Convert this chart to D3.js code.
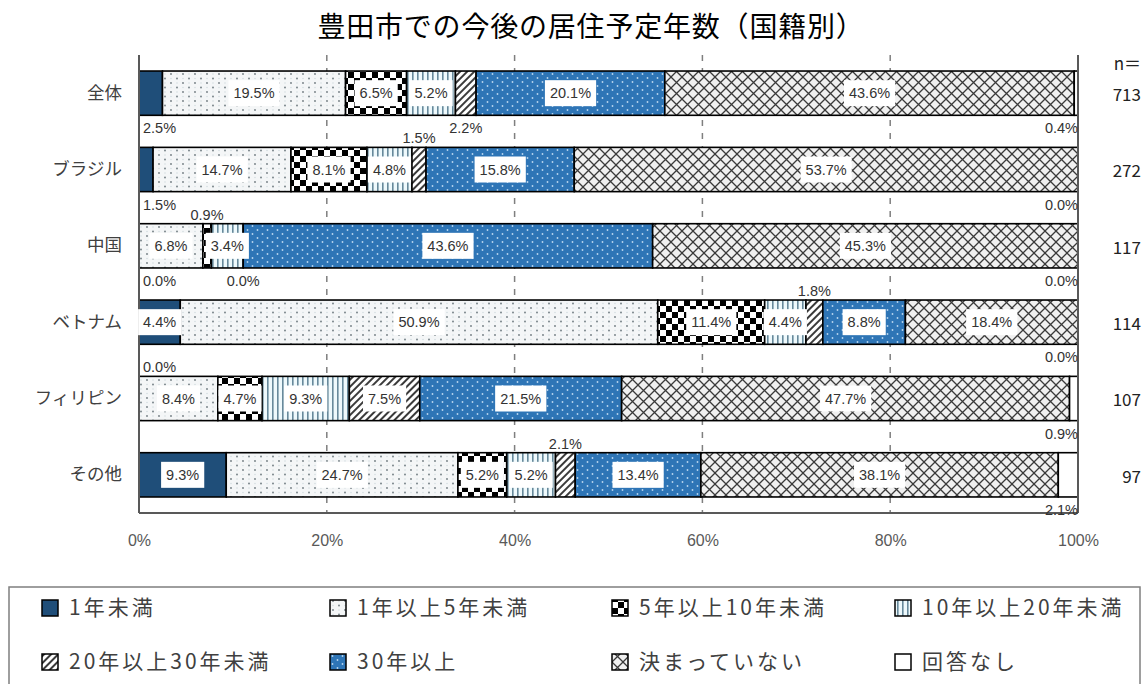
<!DOCTYPE html>
<html>
<head>
<meta charset="utf-8">
<script src="https://cdn.jsdelivr.net/npm/d3@7"></script>
<style>
  body { margin: 0; background: #fff; }
  svg text { font-family: "Noto Sans CJK JP", "Noto Sans", sans-serif; }
</style>
</head>
<body>
<svg id="chart" width="1145" height="684"></svg>
<script>
// ---- data ----
const categories = ["全体", "ブラジル", "中国", "ベトナム", "フィリピン", "その他"];
const seriesNames = ["1年未満", "1年以上5年未満", "5年以上10年未満", "10年以上20年未満",
                     "20年以上30年未満", "30年以上", "決まっていない", "回答なし"];
const valuesAll       = [2.5, 19.5, 6.5, 5.2, 2.2, 20.1, 43.6, 0.4];
const valuesBrazil    = [1.5, 14.7, 8.1, 4.8, 1.5, 15.8, 53.7, 0.0];
const valuesChina     = [0.0, 6.8, 0.9, 3.4, 0.0, 43.6, 45.3, 0.0];
const valuesVietnam   = [4.4, 50.9, 11.4, 4.4, 1.8, 8.8, 18.4, 0.0];
const valuesPhilippines = [0.0, 8.4, 4.7, 9.3, 7.5, 21.5, 47.7, 0.9];
const valuesOther     = [9.3, 24.7, 5.2, 5.2, 2.1, 13.4, 38.1, 2.1];
const sampleSizes = [713, 272, 117, 114, 107, 97];
const xTicks = [0, 20, 40, 60, 80, 100];

// where each value label sits: inside the segment, or just above / below the bar
const placeAll       = ["below", "in", "in", "in", "below", "in", "in", "below"];
const placeBrazil    = ["below", "in", "in", "in", "above", "in", "in", "below"];
const placeChina     = ["below", "in", "above", "in", "below", "in", "in", "below"];
const placeVietnam   = ["in", "in", "in", "in", "above", "in", "in", "below"];
const placePhilippines = ["above", "in", "in", "in", "in", "in", "in", "below"];
const placeOther     = ["in", "in", "in", "in", "above", "in", "in", "below"];

const rows = [valuesAll, valuesBrazil, valuesChina, valuesVietnam, valuesPhilippines, valuesOther];
const places = [placeAll, placeBrazil, placeChina, placeVietnam, placePhilippines, placeOther];

// ---- layout ----
const svg = d3.select("#chart");
const plot = { left: 139, right: 1078, top: 55, bottom: 513 };

const x = d3.scaleLinear().domain([0, 100]).range([plot.left, plot.right]);
const y = d3.scaleBand().domain(categories).range([plot.top, plot.bottom])
  .paddingInner(0.42).paddingOuter(0.21);

// ---- fill patterns ----
const defs = svg.append("defs");
function pattern(id, w, h, bg, transform) {
  const p = defs.append("pattern").attr("id", id)
    .attr("patternUnits", "userSpaceOnUse").attr("width", w).attr("height", h);
  if (transform) p.attr("patternTransform", transform);
  p.append("rect").attr("width", w).attr("height", h).attr("fill", bg);
  return p;
}
// light dotted
{
  const p = pattern("pDots", 12, 9, "#f4f6f7");
  [[3, 2], [9, 6.5]].forEach(([cx, cy]) => p.append("circle").attr("cx", cx).attr("cy", cy).attr("r", 0.9).attr("fill", "#6f7a80"));
  [[9, 2], [3, 6.5]].forEach(([cx, cy]) => p.append("circle").attr("cx", cx).attr("cy", cy).attr("r", 0.8).attr("fill", "#d5dde1"));
}
// checkerboard
{
  const p = pattern("pCheck", 12, 12, "#ffffff");
  p.append("rect").attr("x", 0).attr("y", 0).attr("width", 6).attr("height", 6).attr("fill", "#000");
  p.append("rect").attr("x", 6).attr("y", 6).attr("width", 6).attr("height", 6).attr("fill", "#000");
}
// vertical stripes
{
  const p = pattern("pVert", 5, 10, "#eef9fc");
  p.append("rect").attr("x", 2).attr("y", 0).attr("width", 1.6).attr("height", 10).attr("fill", "#67899b");
}
// diagonal hatch
{
  const p = pattern("pDiag", 5, 5, "#ffffff", "rotate(45)");
  p.append("rect").attr("x", 0).attr("y", 0).attr("width", 2).attr("height", 5).attr("fill", "#3a3a3a");
}
// blue with small dots
{
  const p = pattern("pBlue", 10, 8, "#2e75b6");
  [[2.5, 2], [7.5, 6]].forEach(([cx, cy]) => p.append("circle").attr("cx", cx).attr("cy", cy).attr("r", 0.9).attr("fill", "#b9d6ef"));
}
// diamond crosshatch
{
  const p = pattern("pCross", 11, 11, "#f0f0f0");
  p.append("path").attr("d", "M0,0L11,11M11,0L0,11M-1,10L1,12M10,-1L12,1")
    .attr("stroke", "#3a3a3a").attr("stroke-width", 1.3).attr("fill", "none");
}
const fills = ["#1f4e79", "url(#pDots)", "url(#pCheck)", "url(#pVert)",
               "url(#pDiag)", "url(#pBlue)", "url(#pCross)", "#ffffff"];

// ---- title ----
svg.append("text")
  .attr("x", 591).attr("y", 37)
  .attr("text-anchor", "middle")
  .attr("font-size", 28).attr("font-weight", 400).attr("letter-spacing", 0.8).attr("fill", "#000")
  .text("豊田市での今後の居住予定年数（国籍別）");

// ---- gridlines ----
svg.append("g").selectAll("line").data(xTicks.filter(t => t > 0 && t < 100)).join("line")
  .attr("x1", d => x(d)).attr("x2", d => x(d))
  .attr("y1", plot.top).attr("y2", plot.bottom)
  .attr("stroke", "#7f7f7f").attr("stroke-width", 1.5).attr("stroke-dasharray", "6,7");

// ---- bars ----
const stacked = rows.map((vals, i) => {
  const total = d3.sum(vals);
  let acc = 0;
  return vals.map((v, j) => {
    const s = { row: i, series: j, value: v, place: places[i][j],
                x0: acc / total * 100, x1: (acc + v) / total * 100 };
    acc += v;
    return s;
  });
});
const segs = stacked.flat();

svg.append("g").selectAll("rect").data(segs).join("rect")
  .attr("x", d => x(d.x0))
  .attr("y", d => y(categories[d.row]))
  .attr("width", d => x(d.x1) - x(d.x0))
  .attr("height", y.bandwidth())
  .attr("fill", d => fills[d.series])
  .attr("stroke", "#000").attr("stroke-width", 1.6);

// ---- axes frame ----
const frame = svg.append("g").attr("stroke", "#595959").attr("stroke-width", 2);
frame.append("line").attr("x1", plot.left).attr("x2", plot.left).attr("y1", plot.top).attr("y2", plot.bottom);
frame.append("line").attr("x1", plot.right).attr("x2", plot.right).attr("y1", plot.top).attr("y2", plot.bottom);
frame.append("line").attr("x1", plot.left).attr("x2", plot.right).attr("y1", plot.bottom).attr("y2", plot.bottom);

// x axis tick labels
const xAxis = svg.append("g").attr("transform", `translate(0,${plot.bottom})`)
  .call(d3.axisBottom(x).tickValues(xTicks).tickFormat(d => d + "%").tickSize(0).tickPadding(22));
xAxis.select(".domain").remove();
xAxis.selectAll("text").attr("font-size", 16).attr("fill", "#595959")
  .style("font-family", '"Liberation Sans Narrow", "Liberation Sans", sans-serif');

// y axis category labels
const yAxis = svg.append("g").attr("transform", `translate(${plot.left},0)`)
  .call(d3.axisLeft(y).tickSize(0).tickPadding(17));
yAxis.select(".domain").remove();
yAxis.selectAll("text").attr("font-size", 17.5).attr("fill", "#404040");

// ---- value labels ----
const fmt = d => d.toFixed(1) + "%";
const labelFont = '"Liberation Sans Narrow", "Liberation Sans", sans-serif';
const labels = svg.append("g");

segs.forEach(d => {
  const top = y(categories[d.row]);
  const bottom = top + y.bandwidth();
  const mid = top + y.bandwidth() / 2;
  if (d.place === "in") {
    const cx = (x(d.x0) + x(d.x1)) / 2;
    const g = labels.append("g");
    const t = g.append("text").attr("x", cx).attr("y", mid).attr("dy", "0.35em")
      .attr("text-anchor", "middle").attr("font-size", 14.5).attr("fill", "#333")
      .style("font-family", labelFont).text(fmt(d.value));
    const bb = t.node().getBBox();
    g.insert("rect", "text").attr("x", bb.x - 5).attr("y", mid - 13)
      .attr("width", bb.width + 10).attr("height", 26).attr("fill", "#fff");
  } else {
    let ax, anchor;
    if (d.series === 0) { ax = x(d.x0) + 4; anchor = "start"; }
    else if (d.series === seriesNames.length - 1) { ax = x(d.x1); anchor = "end"; }
    else { ax = (x(d.x0) + x(d.x1)) / 2; anchor = "middle"; }
    const ty = d.place === "above" ? top - 4 : bottom + 18;
    labels.append("text").attr("x", ax).attr("y", ty)
      .attr("text-anchor", anchor).attr("font-size", 14.5).attr("fill", "#333")
      .style("font-family", labelFont).text(fmt(d.value));
  }
});

// ---- sample sizes ----
svg.append("text").attr("x", 1141).attr("y", 70).attr("text-anchor", "end")
  .attr("font-size", 17).attr("fill", "#222").text("n＝");
svg.append("g").selectAll("text").data(sampleSizes).join("text")
  .attr("x", 1141).attr("y", (d, i) => y(categories[i]) + y.bandwidth() / 2 + 2)
  .attr("dy", "0.35em").attr("text-anchor", "end")
  .attr("font-size", 17).attr("fill", "#222").text(d => d);

// ---- legend ----
svg.append("rect").attr("x", 9).attr("y", 587).attr("width", 1131).attr("height", 110)
  .attr("fill", "none").attr("stroke", "#7f7f7f").attr("stroke-width", 1.5);
const legendCols = [42, 330, 612, 895];
const legendRows = [608, 662];
const lg = svg.append("g").selectAll("g").data(seriesNames).join("g")
  .attr("transform", (d, i) => `translate(${legendCols[i % 4]},${legendRows[Math.floor(i / 4)]})`);
lg.append("rect").attr("x", 0).attr("y", -8).attr("width", 16).attr("height", 16)
  .attr("fill", (d, i) => fills[i]).attr("stroke", "#000").attr("stroke-width", 1.5);
lg.append("text").attr("x", 27).attr("y", 0).attr("dy", "0.35em")
  .attr("font-size", 21).attr("letter-spacing", 3).attr("fill", "#404040").text(d => d);
</script>
</body>
</html>
